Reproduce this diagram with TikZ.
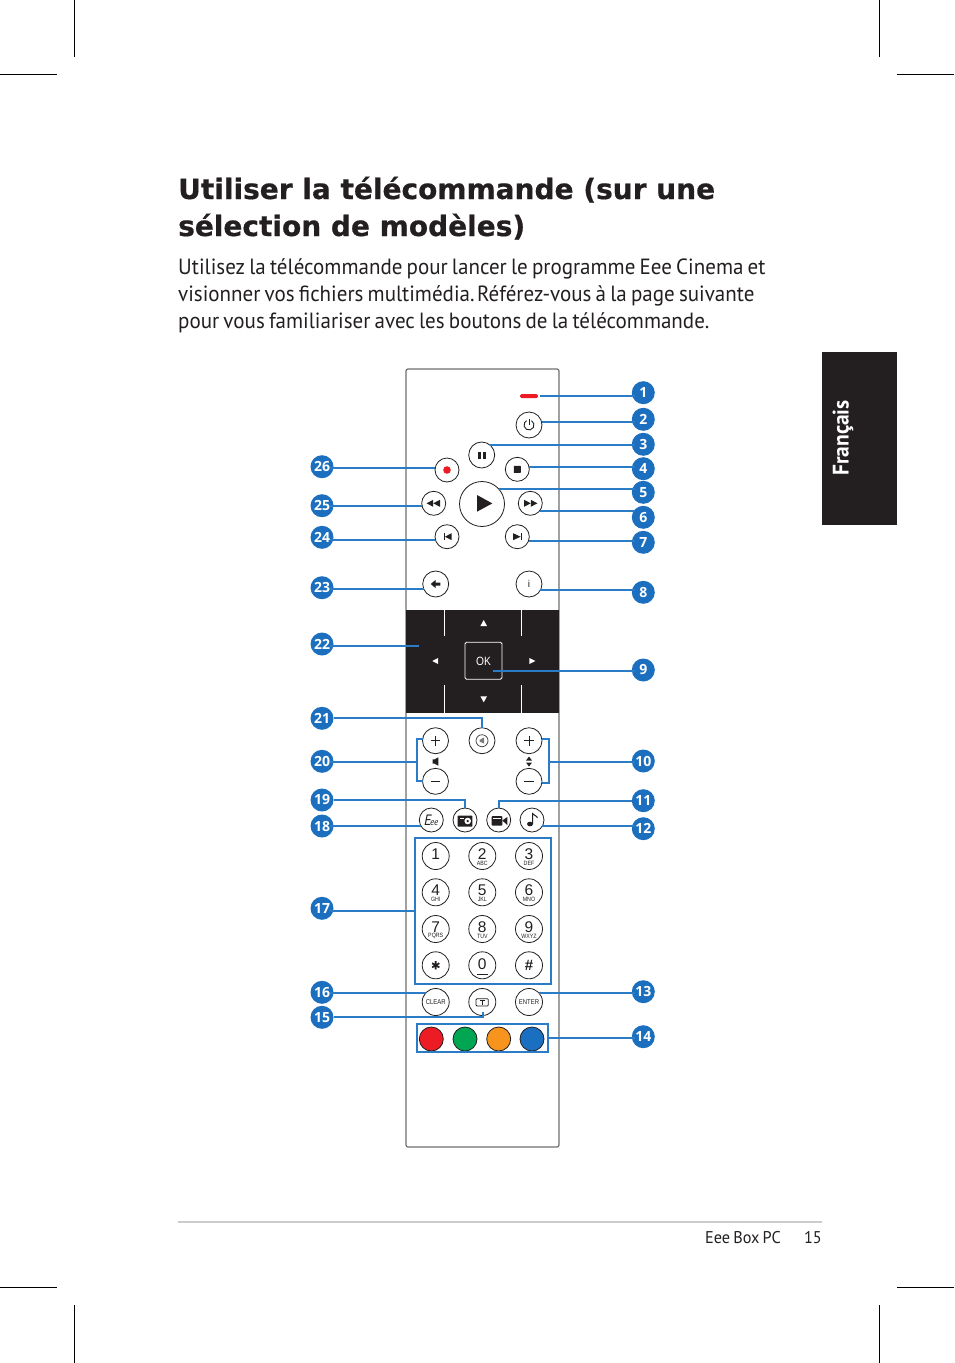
\documentclass[tikz,border=0pt]{standalone}
\usepackage{fontspec}
\setmainfont[WordSpace=0.75,FakeStretch=0.955]{PT Sans}
\newfontfamily\titlefont[BoldFeatures={FakeBold=0.6}]{DejaVu Sans}
\newfontfamily\badgefamily{Open Sans}
\newfontfamily\keyfamily{Liberation Sans}
\newfontfamily\smallfamily[FakeStretch=0.85]{Liberation Sans}
\definecolor{calloutblue}{HTML}{1B6FBE}
\definecolor{leaderblue}{HTML}{2A7CC7}
\definecolor{inkblack}{HTML}{231F20}
\definecolor{bodygrey}{HTML}{6D6E71}
\definecolor{keyred}{HTML}{ED1C24}
\definecolor{keygreen}{HTML}{00A651}
\definecolor{keyorange}{HTML}{F7941D}
\definecolor{keyblue}{HTML}{1B6FC0}
\tikzset{
  badge/.style={circle,fill=calloutblue,text=white,inner sep=0,outer sep=0,minimum size=23pt,
    font=\badgefamily\bfseries\fontsize{14}{14}\selectfont},
  leader/.style={draw=leaderblue,line width=1.8pt},
  btn/.style={circle,draw=inkblack,fill=white,line width=0.8pt,inner sep=0,outer sep=0,minimum size=24pt},
  midbtn/.style={btn,minimum size=26pt},
  keybtn/.style={btn,minimum size=27pt},
  colorbtn/.style={btn,minimum size=24pt},
  keynum/.style={inner sep=0,text=inkblack,font=\keyfamily\fontsize{15.5}{15.5}\selectfont},
  keysub/.style={inner sep=0,text=inkblack,font=\smallfamily\fontsize{6.2}{6.2}\selectfont},
  smalltext/.style={inner sep=0,text=inkblack,font=\smallfamily\fontsize{7}{7}\selectfont},
  heading/.style={anchor=base west,inner sep=0,text=inkblack,font=\titlefont\bfseries\fontsize{28}{28}\selectfont},
  bodyline/.style={anchor=base west,inner sep=0,text=inkblack,font=\fontsize{22}{22}\selectfont},
  footer/.style={anchor=base east,inner sep=0,text=inkblack,font=\fontsize{17}{17}\selectfont},
  crop/.style={draw=black,line width=0.5pt},
}
\begin{document}
\begin{tikzpicture}[x=1pt,y=-1pt]
\useasboundingbox (0,0) rectangle (954,1363);
\draw[crop] (74,0) -- (74,57);
\draw[crop] (879,0) -- (879,57);
\draw[crop] (0,74) -- (57,74);
\draw[crop] (897,74) -- (954,74);
\draw[crop] (0,1287) -- (57,1287);
\draw[crop] (897,1287) -- (954,1287);
\draw[crop] (74,1305) -- (74,1363);
\draw[crop] (879,1305) -- (879,1363);
\node[heading] (title1) at (178,199) {Utiliser la télécommande (sur une};
\node[heading] (title2) at (178,236) {sélection de modèles)};
\node[bodyline] (line1) at (178,274) {Utilisez la télécommande pour lancer le programme Eee Cinema et};
\node[bodyline] (line2) at (178,301) {visionner vos fichiers multimédia.\kern-3.5pt{} Référez-vous à la page suivante};
\node[bodyline] (line3) at (178,328) {pour vous familiariser avec les boutons de la télécommande.};
\fill[inkblack] (822,352) rectangle (897,525);
\node[rotate=90,text=white,inner sep=0,font=\bfseries\fontsize{22.5}{22.5}\selectfont] (tab) at (843,438) {Français};
\draw[black!20,line width=1.5pt] (178,1222) -- (822,1222);
\node[footer] (pagename) at (781,1243) {Eee Box PC};
\node[footer] (pagenum) at (822,1243) {15};
\draw[bodygrey,line width=1.2pt,rounded corners=2pt] (406,369) rectangle (559,1147);
\fill[inkblack] (406,610) rectangle (559,713);
\draw[white,line width=1pt] (444,610) -- (444,636);
\draw[white,line width=1pt] (521.3,610) -- (521.3,636);
\draw[white,line width=1pt] (444,685) -- (444,713);
\draw[white,line width=1pt] (521.3,685) -- (521.3,713);
\draw[white,line width=0.8pt,rounded corners=1.5pt] (465,642.3) rectangle (502,679.3);
\node[text=white,inner sep=0,font=\smallfamily\fontsize{12}{12}\selectfont] (oklabel) at (483.5,661) {OK};
\fill[white] (483.7,620) -- (487,626) -- (480.4,626) -- cycle;
\fill[white] (483.7,702.3) -- (487,696.3) -- (480.4,696.3) -- cycle;
\fill[white] (432.3,661) -- (438,658) -- (438,664) -- cycle;
\fill[white] (535.3,661) -- (529.3,658) -- (529.3,664) -- cycle;
\node[rounded corners=1.5pt,fill=keyred,inner sep=0,outer sep=2pt,minimum width=18pt,minimum height=4pt] (led) at (529,396) {};
\node[btn,minimum size=26pt] (power) at (529,425) {};
\draw[inkblack,line width=0.9pt] (power) ++(-60:5) arc (-60:240:5);
\draw[inkblack,line width=0.9pt] (529,419) -- (529,425);
\node[midbtn] (pause) at (481.7,455) {};
\fill[inkblack] (477.7,451.5) rectangle (480.7,458.5);
\fill[inkblack] (482.7,451.5) rectangle (485.7,458.5);
\node[btn] (stop) at (517.3,469.3) {};
\fill[inkblack,rounded corners=0.5pt] (513.8,465.8) rectangle (520.8,472.8);
\node[btn] (record) at (447,470) {};
\fill[keyred] (record) circle (3.8);
\node[btn,minimum size=45pt] (play) at (482,504) {};
\fill[inkblack] (477,495) -- (492.3,503.4) -- (477,511.7) -- cycle;
\node[btn] (forward) at (530.3,503.3) {};
\fill[inkblack] (524,499.8) -- (530.8,503.3) -- (524,506.8) -- cycle;
\fill[inkblack] (530.8,499.8) -- (537.4,503.3) -- (530.8,506.8) -- cycle;
\node[btn] (rewind) at (433.7,503.3) {};
\fill[inkblack] (440,499.8) -- (433.2,503.3) -- (440,506.8) -- cycle;
\fill[inkblack] (433.2,499.8) -- (426.6,503.3) -- (433.2,506.8) -- cycle;
\node[btn] (prev) at (447,536.7) {};
\fill[inkblack] (443.7,533.2) rectangle (444.9,540.2);
\fill[inkblack] (451.7,533.2) -- (444.9,536.7) -- (451.7,540.2) -- cycle;
\node[btn] (next) at (517.3,536.7) {};
\fill[inkblack] (520.6,533.2) rectangle (521.8,540.2);
\fill[inkblack] (513,533.2) -- (520.6,536.7) -- (513,540.2) -- cycle;
\node[midbtn] (back) at (435.7,584) {};
\fill[inkblack] (430.7,584) -- (435.5,580) -- (435.5,582.5) -- (440.3,582.5) -- (440.3,585.5) -- (435.5,585.5) -- (435.5,588) -- cycle;
\node[midbtn] (info) at (529,584) {};
\node[inner sep=0,text=inkblack,font=\keyfamily\fontsize{10}{10}\selectfont] (infolabel) at (529,584) {i};
\node[midbtn] (volup) at (435.5,740.7) {};
\draw[inkblack,line width=0.8pt] (430.7,740.7) -- (440.3,740.7) (435.5,735.9) -- (435.5,745.5);
\node[midbtn] (voldown) at (435.5,781.3) {};
\draw[inkblack,line width=0.8pt] (430.7,781.3) -- (440.3,781.3);
\node[midbtn] (mute) at (482,740.7) {};
\draw[inkblack!80,line width=0.8pt] (mute) circle (6);
\fill[inkblack!60] (479.5,740) -- (484,737.5) -- (484,743.5) -- (479.5,741.5) -- cycle;
\fill[inkblack] (432.7,759.3) -- (434.7,759.3) -- (438.3,757.3) -- (438.3,765.7) -- (434.7,763.7) -- (432.7,763.7) -- cycle;
\node[midbtn] (chup) at (529,740.7) {};
\draw[inkblack,line width=0.8pt] (524.2,740.7) -- (533.8,740.7) (529,735.9) -- (529,745.5);
\node[midbtn] (chdown) at (529,781.3) {};
\draw[inkblack,line width=0.8pt] (524.2,781.3) -- (533.8,781.3);
\fill[inkblack] (529,756.5) -- (532,760.5) -- (526,760.5) -- cycle;
\fill[inkblack] (529,766.5) -- (532,762.5) -- (526,762.5) -- cycle;
\node[btn] (eee) at (431.3,820) {};
\node[inner sep=0,text=inkblack,font=\itshape\fontsize{15}{15}\selectfont] (eeelabel) at (431.3,820) {E\kern-1.5pt{\fontsize{9.5}{9.5}\selectfont ee}};
\node[btn] (photo) at (465,820) {};
\fill[inkblack,rounded corners=0.5pt] (457.7,815.7) rectangle (472.3,826.7);
\fill[white] (459.5,817.5) rectangle (463.5,818.8);
\fill[white] (467.7,821) circle (3.3);
\fill[inkblack] (467.7,821) circle (1.3);
\node[btn] (video) at (498.7,820) {};
\fill[inkblack,rounded corners=1pt] (491.7,816) rectangle (502.3,825.7);
\fill[inkblack] (502.3,820.5) -- (507.3,817) -- (507.3,825) -- cycle;
\fill[white] (493,818) rectangle (500.5,819.3);
\node[btn] (music) at (532,820) {};
\fill[inkblack] (530,824) ellipse (3 and 2.3);
\draw[inkblack,line width=1pt] (532.5,824) -- (532.5,813.5) .. controls (533.5,816) and (537.5,815.5) .. (537.3,818);
\node[draw=leaderblue,line width=1.8pt,inner sep=0,outer sep=0,minimum width=136pt,minimum height=146pt] (keypad) at (483,911) {};
\node[keybtn] (k1) at (435.7,856) {};
\node[keynum] (n1) at ([yshift=2pt]k1) {1};
\node[keybtn] (k2) at (482.3,856) {};
\node[keynum] (n2) at ([yshift=2pt]k2) {2};
\node[keysub] (s2) at ([yshift=-7.3pt]k2) {ABC};
\node[keybtn] (k3) at (529,856) {};
\node[keynum] (n3) at ([yshift=2pt]k3) {3};
\node[keysub] (s3) at ([yshift=-7.3pt]k3) {DEF};
\node[keybtn] (k4) at (435.7,892.3) {};
\node[keynum] (n4) at ([yshift=2pt]k4) {4};
\node[keysub] (s4) at ([yshift=-7.3pt]k4) {GHI};
\node[keybtn] (k5) at (482.3,892.3) {};
\node[keynum] (n5) at ([yshift=2pt]k5) {5};
\node[keysub] (s5) at ([yshift=-7.3pt]k5) {JKL};
\node[keybtn] (k6) at (529,892.3) {};
\node[keynum] (n6) at ([yshift=2pt]k6) {6};
\node[keysub] (s6) at ([yshift=-7.3pt]k6) {MNO};
\node[keybtn] (k7) at (435.7,929) {};
\node[keynum] (n7) at ([yshift=2pt]k7) {7};
\node[keysub] (s7) at ([yshift=-7.3pt]k7) {PQRS};
\node[keybtn] (k8) at (482.3,929) {};
\node[keynum] (n8) at ([yshift=2pt]k8) {8};
\node[keysub] (s8) at ([yshift=-7.3pt]k8) {TUV};
\node[keybtn] (k9) at (529,929) {};
\node[keynum] (n9) at ([yshift=2pt]k9) {9};
\node[keysub] (s9) at ([yshift=-7.3pt]k9) {WXYZ};
\node[keybtn] (kstar) at (435.7,965.3) {};
\node[keynum,font=\titlefont\bfseries\fontsize{13}{13}\selectfont] (nstar) at (kstar) {∗};
\node[keybtn] (k0) at (482.3,965.3) {};
\node[keynum] (n0) at ([yshift=1pt]k0) {0};
\draw[inkblack,line width=0.8pt] (477.3,974.3) -- (487.7,974.3);
\node[keybtn] (khash) at (529,965.3) {};
\node[keynum,font=\keyfamily\bfseries\fontsize{15}{15}\selectfont] (nhash) at (khash) {\#};
\node[keybtn] (clear) at (435.7,1002) {};
\node[smalltext] (clearlabel) at (clear) {CLEAR};
\node[keybtn] (teletext) at (482.3,1002) {};
\draw[inkblack,line width=0.8pt,rounded corners=1pt] (476,998.7) rectangle (488.3,1006);
\draw[inkblack,line width=0.8pt] (479.5,1000.5) -- (484.8,1000.5) (482.2,1000.5) -- (482.2,1004.5);
\node[keybtn] (enter) at (529,1002) {};
\node[smalltext] (enterlabel) at (enter) {ENTER};
\node[colorbtn,fill=keyred] (redkey) at (431.3,1039) {};
\node[colorbtn,fill=keygreen] (greenkey) at (465,1039) {};
\node[colorbtn,fill=keyorange] (orangekey) at (498.7,1039) {};
\node[colorbtn,fill=keyblue] (bluekey) at (532,1039) {};
\node[draw=leaderblue,line width=1.8pt,inner sep=0,outer sep=0,minimum width=131.6pt,minimum height=28.4pt] (colorbox) at (482.5,1038) {};
\node[badge] (b1) at (643.3,392.7) {1};
\node[badge] (b2) at (643.3,419.3) {2};
\node[badge] (b3) at (643.3,444.3) {3};
\node[badge] (b4) at (643.3,468.7) {4};
\node[badge] (b5) at (643.3,492.3) {5};
\node[badge] (b6) at (643.3,517.3) {6};
\node[badge] (b7) at (643.3,542.3) {7};
\node[badge] (b8) at (643.3,592.3) {8};
\node[badge] (b9) at (643.3,670) {9};
\node[badge] (b10) at (643.3,761) {10};
\node[badge] (b11) at (643.3,800.7) {11};
\node[badge] (b12) at (643.3,828.7) {12};
\node[badge] (b13) at (643.3,991.7) {13};
\node[badge] (b14) at (643.3,1036.7) {14};
\node[badge] (b15) at (322,1017.3) {15};
\node[badge] (b16) at (322,992.3) {16};
\node[badge] (b17) at (322,908.3) {17};
\node[badge] (b18) at (322,826) {18};
\node[badge] (b19) at (322,800) {19};
\node[badge] (b20) at (322,761.3) {20};
\node[badge] (b21) at (322,718.3) {21};
\node[badge] (b22) at (322,644) {22};
\node[badge] (b23) at (322,587.7) {23};
\node[badge] (b24) at (322,537.3) {24};
\node[badge] (b25) at (322,505.7) {25};
\node[badge] (b26) at (322,466.7) {26};
\coordinate (tip9) at (492.7,670.7);
\coordinate (tip15) at (483.3,1012);
\coordinate (tip22) at (419.3,645.7);
\coordinate (fork10) at (549.3,761.7);
\coordinate (fork20) at (416.7,761.7);
\draw[leader] (led.east) -- (led.east -| b1.south west);
\draw[leader] (power.15) -- (power.15 -| b2.south west);
\draw[leader] (pause.52) -- (pause.52 -| b3.south west);
\draw[leader] (stop.12) -- (stop.12 -| b4.south west);
\draw[leader] (play.42) -- (play.42 -| b5.south west);
\draw[leader] (forward.-38) -- (forward.-38 -| b6.south west);
\draw[leader] (next.-21) -- (next.-21 -| b7.south west);
\draw[leader] (info.-29) -- (info.-29 -| b8.south west);
\draw[leader] (tip9) -- (tip9 -| b9.south west);
\draw[leader] (chup.8) -| (fork10) |- (chdown.-6);
\draw[leader] (fork10) -- (fork10 -| b10.south west);
\draw[leader] (video.north) |- (b11.west);
\draw[leader] (music.-30) -- (music.-30 -| b12.south west);
\draw[leader] (enter.43) -- (enter.43 -| b13.south west);
\draw[leader] (colorbox.east) -- (colorbox.east -| b14.south west);
\draw[leader] (tip15) |- (b15.east);
\draw[leader] (clear.137) -- (clear.137 -| b16.south east);
\draw[leader] (keypad.west) -- (keypad.west -| b17.south east);
\draw[leader] (eee.210) -- (eee.210 -| b18.south east);
\draw[leader] (photo.north) |- (b19.east);
\draw[leader] (volup.172) -| (fork20) |- (voldown.180);
\draw[leader] (fork20) -- (fork20 -| b20.south east);
\draw[leader] (mute.north) |- (b21.east);
\draw[leader] (tip22) -- (tip22 -| b22.south east);
\draw[leader] (back.204) -- (back.204 -| b23.south east);
\draw[leader] (prev.196) -- (prev.196 -| b24.south east);
\draw[leader] (rewind.193) -- (rewind.193 -| b25.south east);
\draw[leader] (record.169) -- (record.169 -| b26.south east);
\end{tikzpicture}
\end{document}
